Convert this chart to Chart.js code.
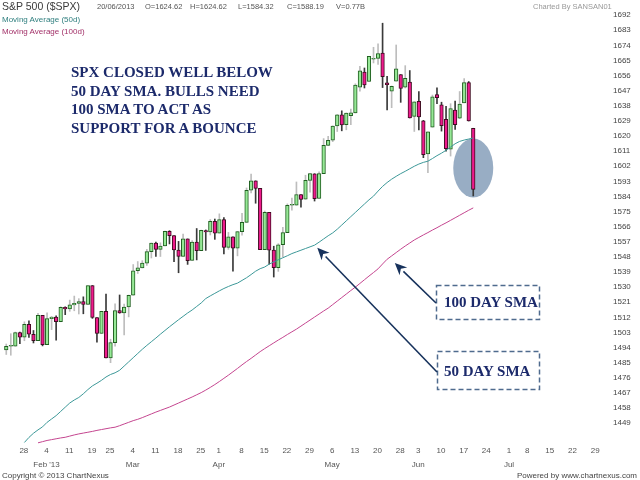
<!DOCTYPE html>
<html>
<head>
<meta charset="utf-8">
<script src="https://cdn.jsdelivr.net/npm/chart.js@4.4.0/dist/chart.umd.min.js"></script>
<style>
  html, body { margin: 0; padding: 0; background: #fff; }
  #wrap { position: relative; width: 640px; height: 480px; overflow: hidden; font-family: "Liberation Sans", Arial, sans-serif; }
  #wrap canvas { position: absolute; left: 0; top: 0; }
  .t { position: absolute; white-space: nowrap; line-height: 1; }
  .hd { top: 3px; font-size: 7.5px; color: #555; }
  .lg { left: 2px; font-size: 8px; }
  .ft { top: 472px; font-size: 8px; color: #444; }
  .note { position: absolute; left: 71px; top: 63px; font: bold 15px/18.5px "Liberation Serif", "Times New Roman", serif; color: #1c2a6b; white-space: nowrap; }
  .box { position: absolute; left: 444px; font: bold 15px/1 "Liberation Serif", "Times New Roman", serif; color: #1c2a6b; white-space: nowrap; }
</style>
</head>
<body>
<div id="wrap">
  <canvas id="chart" width="640" height="480"></canvas>
  <div class="t" style="left:2px;top:1px;font-size:10.5px;color:#3a3a3a">S&amp;P 500 ($SPX)</div>
  <div class="t hd" style="left:97px">20/06/2013</div>
  <div class="t hd" style="left:145px">O=1624.62</div>
  <div class="t hd" style="left:190px">H=1624.62</div>
  <div class="t hd" style="left:238px">L=1584.32</div>
  <div class="t hd" style="left:287px">C=1588.19</div>
  <div class="t hd" style="left:336px">V=0.77B</div>
  <div class="t hd" style="left:533px;color:#999">Charted By SANSAN01</div>
  <div class="t lg" style="top:16px;color:#2e7e7e">Moving Average (50d)</div>
  <div class="t lg" style="top:28px;color:#a23068">Moving Average (100d)</div>
  <div class="note">SPX CLOSED WELL BELOW<br>50 DAY SMA. BULLS NEED<br>100 SMA TO ACT AS<br>SUPPORT FOR A BOUNCE</div>
  <div class="box" style="top:295px">100 DAY SMA</div>
  <div class="box" style="top:364px">50 DAY SMA</div>
  <div class="t ft" style="left:2px">Copyright © 2013 ChartNexus</div>
  <div class="t ft" style="right:3px">Powered by www.chartnexus.com</div>
</div>
<script>
// trading days on the x axis (2013), the last 29 are empty future slots
const dates = [
  "01-23","01-24","01-25","01-28","01-29","01-30","01-31",
  "02-01","02-04","02-05","02-06","02-07","02-08","02-11","02-12","02-13","02-14","02-15",
  "02-19","02-20","02-21","02-22","02-25","02-26","02-27","02-28",
  "03-01","03-04","03-05","03-06","03-07","03-08","03-11","03-12","03-13","03-14","03-15",
  "03-18","03-19","03-20","03-21","03-22","03-25","03-26","03-27","03-28",
  "04-01","04-02","04-03","04-04","04-05","04-08","04-09","04-10","04-11","04-12",
  "04-15","04-16","04-17","04-18","04-19","04-22","04-23","04-24","04-25","04-26","04-29","04-30",
  "05-01","05-02","05-03","05-06","05-07","05-08","05-09","05-10","05-13","05-14","05-15","05-16","05-17",
  "05-20","05-21","05-22","05-23","05-24","05-28","05-29","05-30","05-31",
  "06-03","06-04","06-05","06-06","06-07","06-10","06-11","06-12","06-13","06-14",
  "06-17","06-18","06-19","06-20","06-21","06-24","06-25","06-26","06-27","06-28",
  "07-01","07-02","07-03","07-05","07-08","07-09","07-10","07-11","07-12",
  "07-15","07-16","07-17","07-18","07-19","07-22","07-23","07-24","07-25","07-26",
  "07-29","07-30","07-31","08-01"
];

// daily candles, Jan 23 .. Jun 20
const opens = [
  1492.56,1494.81,1494.82,1502.96,1500.18,1507.84,1501.96,
  1498.11,1513.17,1495.71,1511.29,1512.12,1509.39,1517.93,1517.01,1519.43,1520.33,1521.38,
  1519.79,1530.94,1511.95,1502.42,1515.60,1487.85,1496.94,1515.99,
  1514.68,1518.20,1525.20,1539.79,1541.46,1544.26,1551.15,1556.22,1552.48,1554.52,1563.21,
  1560.70,1552.10,1548.34,1558.71,1545.90,1556.89,1551.69,1563.75,1562.86,
  1569.18,1562.17,1570.25,1553.69,1559.98,1553.26,1563.11,1568.61,1587.73,1593.30,
  1588.84,1552.36,1574.57,1552.03,1541.61,1555.25,1562.50,1578.78,1578.78,1585.16,1582.34,1593.58,
  1597.55,1582.77,1597.60,1614.40,1617.55,1625.95,1632.69,1626.69,1632.10,1633.75,1649.13,1658.07,1652.45,
  1665.71,1666.20,1669.39,1651.62,1646.67,1652.63,1656.57,1649.14,1652.13,
  1631.71,1640.73,1629.05,1609.29,1625.27,1644.67,1638.64,1629.94,1612.15,1635.52,
  1630.64,1639.77,1651.83,1624.62
];
const highs = [
  1496.13,1502.27,1503.26,1503.23,1509.35,1509.94,1504.19,
  1514.41,1513.17,1514.76,1512.53,1512.90,1518.31,1518.31,1522.29,1524.69,1523.14,1524.24,
  1530.94,1530.94,1511.95,1515.64,1525.84,1498.99,1520.08,1525.34,
  1519.99,1525.27,1543.47,1545.25,1545.78,1552.48,1556.27,1556.77,1556.39,1563.32,1563.62,
  1560.70,1557.25,1561.56,1558.71,1557.74,1564.91,1563.95,1564.07,1570.28,
  1570.57,1573.66,1571.47,1562.60,1559.98,1563.07,1573.89,1589.07,1597.35,1593.30,
  1588.84,1575.35,1574.57,1554.38,1555.89,1565.55,1579.58,1583.00,1592.64,1585.16,1596.65,1597.57,
  1597.55,1598.60,1618.46,1619.77,1626.03,1632.78,1635.01,1633.70,1636.00,1651.10,1661.49,1660.51,1667.47,
  1672.84,1674.93,1687.18,1655.50,1649.78,1674.21,1656.57,1661.91,1658.99,
  1640.42,1646.53,1629.31,1622.56,1644.40,1648.69,1640.13,1637.71,1639.25,1640.80,
  1646.50,1654.19,1652.45,1624.62
];
const lows = [
  1489.90,1489.46,1494.82,1496.33,1498.09,1500.11,1496.76,
  1498.11,1495.02,1495.71,1504.71,1498.49,1509.39,1513.61,1515.61,1515.93,1514.02,1514.14,
  1519.79,1511.41,1497.29,1502.42,1487.85,1485.01,1494.88,1514.46,
  1501.48,1512.29,1525.20,1538.11,1541.46,1542.94,1547.36,1548.24,1548.25,1554.52,1555.74,
  1545.13,1538.57,1548.34,1543.55,1545.90,1546.22,1551.69,1551.90,1561.08,
  1558.47,1562.17,1549.80,1552.52,1539.50,1548.63,1560.92,1568.61,1586.17,1579.97,
  1552.28,1552.36,1543.69,1536.03,1539.40,1548.19,1562.50,1575.80,1578.78,1577.56,1582.34,1586.50,
  1581.28,1582.77,1597.60,1614.21,1616.64,1622.70,1623.09,1623.71,1626.74,1633.75,1646.68,1648.60,1652.45,
  1663.52,1662.67,1648.86,1635.53,1636.88,1652.63,1640.05,1648.61,1630.74,
  1622.72,1623.62,1607.09,1598.23,1625.27,1639.26,1622.92,1610.92,1608.07,1623.96,
  1630.34,1639.77,1628.91,1584.32
];
const closes = [
  1494.81,1494.82,1502.96,1500.18,1507.84,1501.96,1498.11,
  1513.17,1495.71,1511.29,1512.12,1509.39,1517.93,1517.01,1519.43,1520.33,1521.38,1519.79,
  1530.94,1511.95,1502.42,1515.60,1487.85,1496.94,1515.99,1514.68,
  1518.20,1525.20,1539.79,1541.46,1544.26,1551.18,1556.22,1552.48,1554.52,1563.23,1560.70,
  1552.10,1548.34,1558.71,1545.80,1556.89,1551.69,1563.77,1562.85,1569.19,
  1562.17,1570.25,1553.69,1559.98,1553.28,1563.07,1568.61,1587.73,1593.37,1588.85,
  1552.36,1574.57,1552.01,1541.61,1555.25,1562.50,1578.78,1578.79,1585.16,1582.24,1593.61,1597.57,
  1582.70,1597.59,1614.42,1617.50,1625.96,1632.69,1626.67,1633.70,1633.77,1650.34,1658.78,1650.47,1667.47,
  1666.29,1669.16,1655.35,1650.51,1649.60,1660.06,1648.36,1654.41,1630.74,
  1640.42,1631.38,1608.90,1622.56,1643.38,1642.81,1626.13,1612.52,1636.36,1626.73,
  1639.04,1651.81,1628.93,1588.19
];

// moving averages
const ma50 = [
  null,null,null,null,1437.5,1440.5,1443,
  1445,1446.8,1449.5,1451.5,1453.5,1456,1458.5,1461,1462.8,1464.3,1466.5,
  1469,1471.2,1472.8,1474.5,1476.5,1478,1479,1480.5,
  1483,1485.5,1488,1490.5,1493,1495.3,1497.5,1499.7,1502,1504.2,1506.4,
  1508.5,1510.6,1512.6,1514.6,1516.4,1518.5,1520.6,1523.2,1524.8,
  1526.3,1527.8,1529.2,1530.4,1531.5,1532.4,1534,1535.6,1537.5,1539.5,
  1541,1542,1543.7,1545,1546.3,1547.5,1548.7,1550,1551,1552,1553,1554,
  1555,1556.8,1558.7,1560.6,1562.3,1564.5,1567,1569.5,1572,1574.5,1577,1579.5,1582,
  1584.2,1587.2,1590,1592.3,1594.3,1596,1597.6,1599,1600.5,
  1602,1603.3,1604.3,1605,1606.6,1608.3,1609.8,1611.5,1613.4,1615.4,
  1616.8,1617.6,1618.2,1618.8
];
const ma100 = [
  null,null,null,null,null,null,null,
  1437.3,1438,1438.7,1439.2,1439.7,1440.2,1440.6,1441.3,1442,1442.6,1443.1,
  1443.6,1444.1,1444.7,1445.2,1445.7,1446.2,1446.6,1447.5,
  1448.5,1449.5,1450.5,1451.3,1452.3,1453.4,1454.5,1455.6,1456.6,1457.6,1458.6,
  1459.8,1461,1462.2,1463.4,1464.6,1465.9,1467.2,1468.7,1470.3,
  1472,1473.8,1475.7,1477.6,1479.6,1481.6,1483.7,1485.7,1487.6,1489.6,
  1491.6,1493.4,1495.1,1496.8,1498.5,1500.1,1501.8,1503.4,1505,1506.8,1508.6,1510.4,
  1512.2,1514,1515.8,1517.5,1519.6,1521.7,1523.8,1525.9,1528,1530,1532.2,1534.4,1536.6,
  1538.7,1540.9,1543.8,1546.6,1548.6,1550.6,1552.6,1554.5,1556.3,
  1558.1,1559.6,1561.1,1562.5,1564,1565.4,1566.9,1568.3,1569.8,1571.3,
  1572.8,1574.3,1575.8,1577.2
];

// axis labels
const tickDates = ["01-28","02-04","02-11","02-19","02-25","03-04","03-11","03-18","03-25",
  "04-01","04-08","04-15","04-22","04-29","05-06","05-13","05-20","05-28",
  "06-03","06-10","06-17","06-24","07-01","07-08","07-15","07-22","07-29"];
const tickDays = ["28","4","11","19","25","4","11","18","25",
  "1","8","15","22","29","6","13","20","28",
  "3","10","17","24","1","8","15","22","29"];
const tickMonths = ["","Feb '13","","","","Mar","","","",
  "Apr","","","","","May","","","",
  "Jun","","","","Jul","","","",""];
const yTicks = [1449,1458,1467,1476,1485,1494,1503,1512,1521,1530,1539,1548,1557,1566,
  1575,1584,1593,1602,1611,1620,1629,1638,1647,1656,1665,1674,1683,1692];

const isUp = (i) => closes[i] >= opens[i];

// no automatic label padding round the plot
const noPad = (s) => {
  s.paddingTop = 0;
  s.paddingBottom = 0;
  s.paddingLeft = 0;
  s.paddingRight = 0;
};

// circle round the last candle, and the two arrows from the boxes
const notes = {
  id: "notes",
  beforeDatasetsDraw(chart) {
    const { ctx, scales: { x, y } } = chart;
    ctx.save();
    ctx.fillStyle = "rgba(118,146,176,0.75)";
    ctx.beginPath();
    ctx.ellipse(x.getPixelForValue(103), y.getPixelForValue(1601), 20, 29.5, 0, 0, Math.PI * 2);
    ctx.fill();
    ctx.restore();
  },
  afterDatasetsDraw(chart) {
    const { ctx, scales: { x, y } } = chart;
    ctx.save();
    ctx.strokeStyle = "#4f6b8e";
    ctx.lineWidth = 1.5;
    ctx.setLineDash([5, 3]);
    ctx.strokeRect(436.5, 285.5, 103, 34);
    ctx.strokeRect(437.5, 351.5, 102, 38);
    ctx.setLineDash([]);

    const arrow = (x1, y1, x2, y2) => {
      const a = Math.atan2(y2 - y1, x2 - x1);
      const len = 12, half = 5.5;
      const bx = x2 - len * Math.cos(a), by = y2 - len * Math.sin(a);
      ctx.strokeStyle = "#17325c";
      ctx.fillStyle = "#17325c";
      ctx.lineWidth = 1.6;
      ctx.beginPath();
      ctx.moveTo(x1, y1);
      ctx.lineTo(bx, by);
      ctx.stroke();
      ctx.beginPath();
      ctx.moveTo(x2, y2);
      ctx.lineTo(bx + half * Math.sin(a), by - half * Math.cos(a));
      ctx.lineTo(x2 - 0.7 * len * Math.cos(a), y2 - 0.7 * len * Math.sin(a));
      ctx.lineTo(bx - half * Math.sin(a), by + half * Math.cos(a));
      ctx.closePath();
      ctx.fill();
    };
    arrow(436, 303, x.getPixelForValue(85.7), y.getPixelForValue(1544.4));
    arrow(437, 372, x.getPixelForValue(68.6), y.getPixelForValue(1553.4));
    ctx.restore();
  }
};

new Chart(document.getElementById("chart"), {
  type: "bar",
  data: {
    labels: dates,
    datasets: [
      {
        type: "line",
        data: ma50,
        borderColor: "#3c9898",
        borderWidth: 1,
        pointRadius: 0,
        tension: 0,
        order: 1,
      },
      {
        type: "line",
        data: ma100,
        borderColor: "#c4458f",
        borderWidth: 1,
        pointRadius: 0,
        tension: 0,
        order: 1,
      },
      {
        // bodies
        data: opens.map((o, i) => [o, closes[i]]),
        backgroundColor: (c) => (isUp(c.dataIndex) ? "#96e896" : "#ee1a8c"),
        borderColor: (c) => (isUp(c.dataIndex) ? "#1f5e1f" : "#3f0c20"),
        borderWidth: 1,
        borderSkipped: false,
        barThickness: 3.6,
        minBarLength: 1,
        grouped: false,
        order: 2,
      },
      {
        // wicks
        data: lows.map((l, i) => [l, highs[i]]),
        backgroundColor: (c) => (isUp(c.dataIndex) ? "#bdbdbd" : "#3a3a3a"),
        borderWidth: 0,
        barThickness: 1,
        grouped: false,
        order: 3,
      },
    ],
  },
  options: {
    responsive: false,
    animation: false,
    events: [],
    layout: { padding: { left: 4, right: 0, top: 0, bottom: 0 } },
    plugins: { legend: { display: false }, tooltip: { enabled: false } },
    scales: {
      x: {
        offset: true,
        grid: { display: false, drawTicks: false },
        border: { display: false },
        ticks: {
          autoSkip: false,
          maxRotation: 0,
          padding: -1,
          labelOffset: 4,
          color: "#555",
          font: { family: "Liberation Sans", size: 8, lineHeight: 1.75 },
          callback: (v, i) => {
            const k = tickDates.indexOf(dates[i]);
            return k < 0 ? null : [tickDays[k], tickMonths[k]];
          },
        },
        afterFit: (s) => { s.height = 35; noPad(s); },
      },
      y: {
        position: "right",
        min: 1436,
        max: 1701,
        grid: { display: false, drawTicks: false },
        border: { display: false },
        afterBuildTicks: (s) => { s.ticks = yTicks.map((v) => ({ value: v })); },
        ticks: {
          padding: 6,
          color: "#444",
          font: { family: "Liberation Sans", size: 8 },
          callback: (v) => String(v),
        },
        afterFit: (s) => { s.width = 33; noPad(s); },
      },
    },
  },
  plugins: [notes],
});
</script>
</body>
</html>
